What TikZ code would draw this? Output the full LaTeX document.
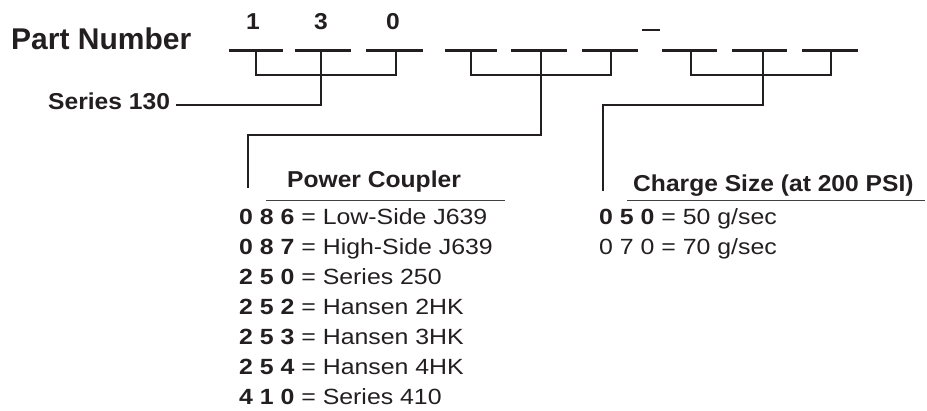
\documentclass[tikz,border=0pt]{standalone}
\usepackage{fontspec}
\setmainfont{Liberation Sans}
\newfontfamily\lblfont[FakeStretch=1.07]{Liberation Sans}
\newfontfamily\rowfont[FakeStretch=1.13]{Liberation Sans}
\definecolor{ink}{HTML}{231F20}
\begin{document}
\begin{tikzpicture}[x=1pt,y=-1pt,
  txt/.style={inner sep=0pt,anchor=base west,text=ink},
  title/.style={txt,font=\fontsize{30}{34}\selectfont\bfseries},
  lbl/.style={txt,font=\lblfont\fontsize{23}{27}\selectfont\bfseries},
  digit/.style={inner sep=0pt,anchor=base,text=ink,font=\lblfont\fontsize{23}{27}\selectfont\bfseries},
  row/.style={txt,font=\rowfont\fontsize{22}{26}\selectfont},
  blank/.style={draw=ink,line width=2.2pt},
  conn/.style={draw=ink,line width=2pt},
  uline/.style={draw=ink!85,line width=1.6pt}]
\useasboundingbox (0,0) rectangle (927,411);

% title
\node[title] (pn) at (11,50) {Part Number};

% blanks
\foreach \n/\a/\b in {1/229/283,2/295/351,3/366/423,4/445/497,5/511/567,6/582/638,7/662/717,8/732/787,9/802/858}{
  \coordinate (bl\n) at (\a,50.5);
  \coordinate (br\n) at (\b,50.5);
  \draw[blank] (bl\n) -- (br\n);
}
\coordinate (dl) at (642,30);
\coordinate (dr) at (660,30);
\draw[blank] (dl) -- (dr);

% digits above blanks
\node[digit] (d1) at (253,30) {1};
\node[digit] (d2) at (321,30) {3};
\node[digit] (d3) at (393,30) {0};

% tick tops and bracket feet
\foreach \n/\x in {1/256,2/321,3/396,4/471,5/541,6/611,7/691,8/763,9/831}{
  \coordinate (t\n) at (\x,50.5);
  \coordinate (k\n) at (\x,75.5);
}

% brackets
\draw[conn] (t1) -- (k1) -- (k3) -- (t3);
\draw[conn] (t2) -- (k2);
\draw[conn] (t4) -- (k4) -- (k6) -- (t6);
\draw[conn] (t5) -- (k5);
\draw[conn] (t7) -- (k7) -- (k9) -- (t9);
\draw[conn] (t8) -- (k8);

% labels
\node[lbl] (s130) at (48,110) {Series 130};
\coordinate (s130e) at (176,105);
\draw[conn] (k2) |- (s130e);

\node[lbl] (pc) at (287,188) {Power Coupler};
\coordinate (pcc) at (248,135);
\coordinate (pcl) at (248,188);
\draw[conn] (k5) |- (pcc) -- (pcl);
\coordinate (pcu1) at (266,200.5);
\coordinate (pcu2) at (505,200.5);
\draw[uline] (pcu1) -- (pcu2);

\node[lbl] (cs) at (633,191.5) {Charge Size (at 200 PSI)};
\coordinate (csc) at (603,105);
\coordinate (csl) at (603,191);
\draw[conn] (k8) |- (csc) -- (csl);
\coordinate (csu1) at (627,200.5);
\coordinate (csu2) at (925,200.5);
\draw[uline] (csu1) -- (csu2);

% power coupler rows
\node[row] (r1) at (239,225) {\textbf{0 8 6} = Low-Side J639};
\node[row] (r2) at (239,255) {\textbf{0 8 7} = High-Side J639};
\node[row] (r3) at (239,285) {\textbf{2 5 0} = Series 250};
\node[row] (r4) at (239,315) {\textbf{2 5 2} = Hansen 2HK};
\node[row] (r5) at (239,345) {\textbf{2 5 3} = Hansen 3HK};
\node[row] (r6) at (239,375) {\textbf{2 5 4} = Hansen 4HK};
\node[row] (r7) at (239,405) {\textbf{4 1 0} = Series 410};

% charge rows
\node[row] (c1) at (599,225) {\textbf{0 5 0} = 50 g/sec};
\node[row] (c2) at (599,255) {0 7 0 = 70 g/sec};
\end{tikzpicture}
\end{document}
